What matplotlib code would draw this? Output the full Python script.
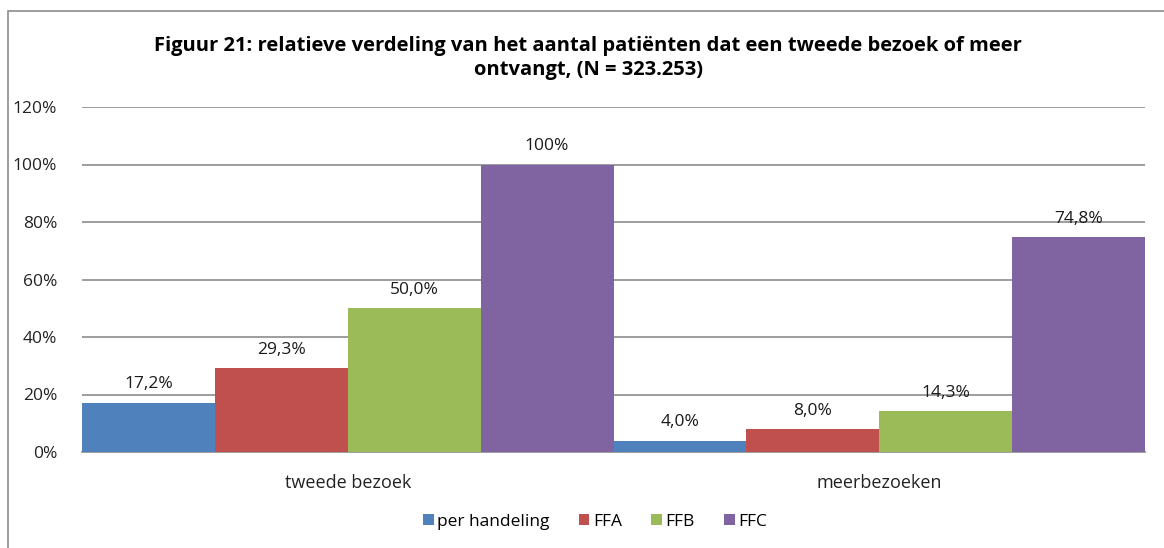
import matplotlib.pyplot as plt
import numpy as np
from matplotlib.patches import Rectangle

# data
categories = ["tweede bezoek", "meerbezoeken"]
series = ["per handeling", "FFA", "FFB", "FFC"]
values = {
    "per handeling": [17.2, 4.0],
    "FFA": [29.3, 8.0],
    "FFB": [50.0, 14.3],
    "FFC": [100.0, 74.8],
}
labels = {
    "per handeling": ["17,2%", "4,0%"],
    "FFA": ["29,3%", "8,0%"],
    "FFB": ["50,0%", "14,3%"],
    "FFC": ["100%", "74,8%"],
}
colors = ["#4F81BD", "#C0504D", "#9BBB59", "#8064A2"]
yticks = [0, 20, 40, 60, 80, 100, 120]

plt.rcParams['font.family'] = ['Open Sans', 'DejaVu Sans']

fig = plt.figure(figsize=(11.64, 5.48), dpi=100)
ax = fig.add_axes([82/1164, 1 - 452/548, (1145 - 82)/1164, (452 - 107)/548])

# chart border (only left/top visible in the crop)
fig.patches.append(Rectangle((8/1164, -0.1), 1.2, 1 - 11/548 + 0.1, transform=fig.transFigure,
                             fill=False, edgecolor="#8c8c8c", linewidth=1.2))

x = np.arange(len(categories))
w = 0.25
for i, s in enumerate(series):
    pos = x - 0.375 + i * w
    ax.bar(pos, values[s], width=w, color=colors[i], label=s, zorder=3)
    for p, v, t in zip(pos, values[s], labels[s]):
        ax.text(p, v + 6.3, t, ha="center", va="center", fontsize=12.5, color="#1a1a1a", zorder=4)

ax.set_xlim(-0.5, 1.5)
ax.set_ylim(0, 120)
ax.set_yticks(yticks)
ax.set_yticklabels([f"{t}%" for t in yticks], fontsize=12.5, color="#222222")
ax.set_xticks(x)
ax.set_xticklabels(categories, fontsize=13, color="#222222")
ax.tick_params(axis="y", length=0, pad=18)
ax.tick_params(axis="x", length=0, pad=16)
ax.grid(axis="y", color="#8c8c8c", linewidth=1.2, zorder=0)
for sp in ["left", "right", "top"]:
    ax.spines[sp].set_visible(False)
ax.spines["bottom"].set_color("#8c8c8c")
ax.spines["bottom"].set_linewidth(1.2)

fig.text(588/1164, 1 - 58/548,
         "Figuur 21: relatieve verdeling van het aantal patiënten dat een tweede bezoek of meer\nontvangt, (N = 323.253)",
         ha="center", va="center", fontsize=14.5, fontweight="bold", linespacing=1.3)

fig.legend(loc="center", bbox_to_anchor=(595/1164, 1 - 522/548), ncol=4, frameon=False,
           fontsize=12.5, handlelength=0.6, handleheight=0.6, handletextpad=0.2, columnspacing=1.7)

fig.savefig("out.png", dpi=100)
